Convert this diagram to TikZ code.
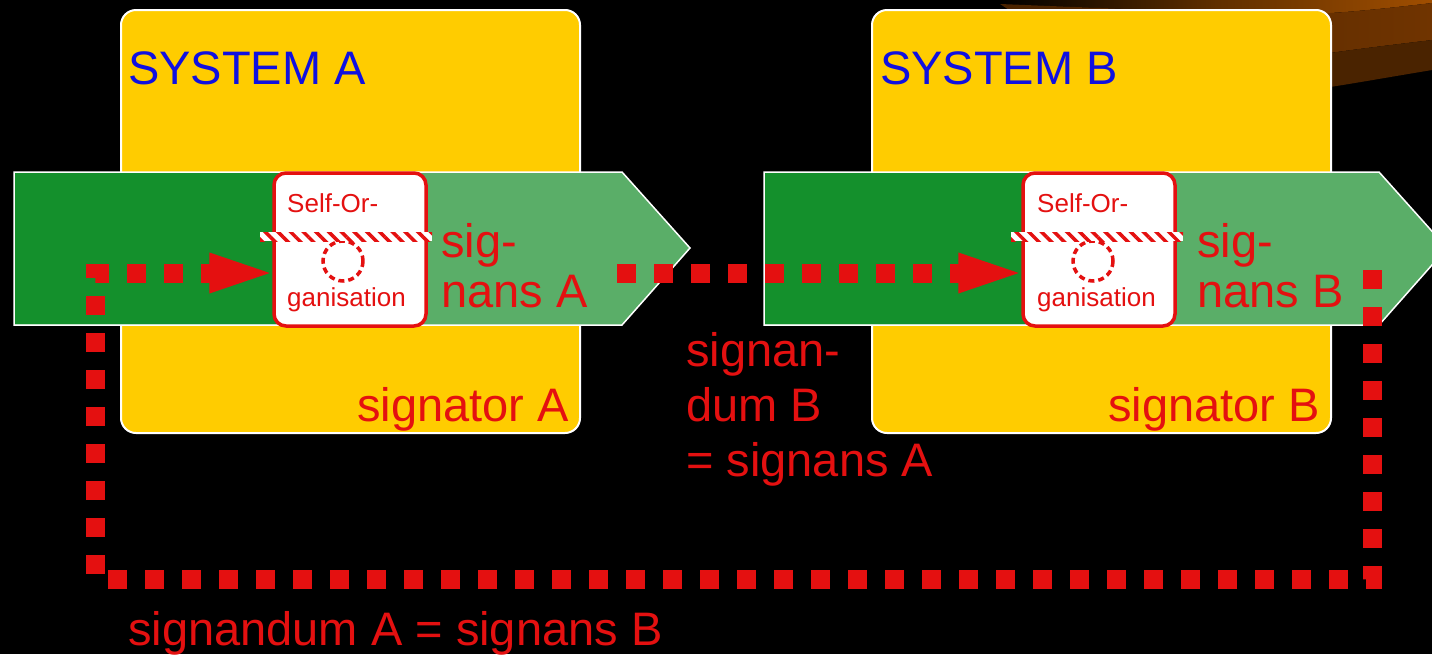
\documentclass[tikz,border=0pt]{standalone}
\usepackage{fontspec}
\setmainfont{Liberation Sans}
\usetikzlibrary{arrows.meta,patterns.meta}

\definecolor{sysyellow}{HTML}{FFCC00}
\definecolor{sysblue}{HTML}{1010E0}
\definecolor{sigred}{HTML}{E41010}
\definecolor{flowdark}{HTML}{14902C}
\definecolor{flowlight}{HTML}{5AAE68}
\definecolor{bandorange}{HTML}{A04E00}
\definecolor{bandmid}{HTML}{703400}
\definecolor{banddark}{HTML}{4A2300}

\tikzset{
  sysbox/.style={fill=sysyellow, draw=white, line width=2pt, rounded corners=15pt},
  systitle/.style={anchor=base west, inner sep=0pt, text=sysblue, font=\fontsize{47}{52}\selectfont},
  biglabel/.style={anchor=base west, inner sep=0pt, text=sigred, font=\fontsize{47}{55}\selectfont},
  flow/.style={fill=flowlight, draw=white, line width=1.5pt},
  sobox/.style={fill=white, draw=sigred, line width=3.5pt, rounded corners=12pt,
    minimum width=152pt, minimum height=153pt, inner sep=0pt},
  solabel/.style={anchor=base west, inner sep=0pt, text=sigred, font=\fontsize{26}{30}\selectfont},
  hatchbar/.style={pattern={Lines[angle=-45,distance=9pt,line width=3.5pt]}, pattern color=sigred},
  hatchring/.style={draw=sigred, line width=3.5pt, dash pattern=on 6pt off 4pt},
  dotline/.style={draw=sigred, line width=19pt, line cap=butt, line join=miter,
    dash pattern=on 19pt off 18pt, -{Triangle[length=71pt,width=34pt]}}
}

\begin{document}
\begin{tikzpicture}[x=1pt,y=-1pt]
\useasboundingbox (0,0) rectangle (1432,654);
\clip (0,0) rectangle (1432,654);
\fill[black] (0,0) rectangle (1432,654);

% curved bands in the upper right corner
\shade[left color=black, right color=bandorange, middle color=bandorange!60!black]
  (1000,0) -- (1432,0) -- (1432,3) .. controls (1390,8) and (1350,12) .. (1330,13)
  .. controls (1250,14) and (1150,10) .. (1000,4) -- cycle;
\shade[left color=banddark, right color=bandmid]
  (1000,4) .. controls (1150,10) and (1250,14) .. (1330,13)
  .. controls (1350,12) and (1390,8) .. (1432,3) -- (1432,40)
  .. controls (1390,45) and (1350,50) .. (1330,53) -- (1100,70) -- cycle;
\fill[banddark]
  (1100,70) -- (1330,53) .. controls (1350,50) and (1390,45) .. (1432,40) -- (1432,70)
  .. controls (1390,77) and (1350,84) .. (1330,87) -- (1100,110) -- cycle;

% the two systems
\draw[sysbox] (121,10) rectangle (580,433);
\draw[sysbox] (872,10) rectangle (1331,433);
\node[systitle] (titleA) at (128,84) {SYSTEM A};
\node[systitle] (titleB) at (880,84) {SYSTEM B};
\node[biglabel] (signatorA) at (357,421) {signator A};
\node[biglabel] (signatorB) at (1108,421) {signator B};

% sign flows
\draw[flow] (14,172) -- (622,172) -- (690,248) -- (622,325) -- (14,325) -- cycle;
\fill[flowdark] (15,173) rectangle (300,324);
\draw[flow] (764,172) -- (1379,172) -- (1447,248) -- (1379,325) -- (764,325) -- cycle;
\fill[flowdark] (765,173) rectangle (1050,324);

% self-organisation boxes
\node[sobox] (soA) at (350,249.5) {};
\node[sobox] (soB) at (1099,249.5) {};
\node[solabel] (soAtop) at (287,212) {Self-Or-};
\node[solabel] (soAbot) at (287,306) {ganisation};
\node[solabel] (soBtop) at (1037,212) {Self-Or-};
\node[solabel] (soBbot) at (1037,306) {ganisation};
\draw[hatchring] (343,261) circle (20);
\draw[hatchring] (1093,261) circle (20);
\fill[white] (260,232) rectangle (432,241);
\fill[hatchbar] (260,232) rectangle (432,241);
\fill[white] (1011,232) rectangle (1183,241);
\fill[hatchbar] (1011,232) rectangle (1183,241);

% signans labels
\node[biglabel] (sigA) at (441,257) {sig-};
\node[biglabel] (nansA) at (441,307) {nans A};
\node[biglabel] (sigB) at (1197,257) {sig-};
\node[biglabel] (nansB) at (1197,307) {nans B};

% connectors: signans becomes the next signandum
\coordinate (outA) at (617,273);
\coordinate (inB) at ([xshift=8pt]soB.west |- outA);
\coordinate (outB) at (1372,270);
\coordinate (cornerBR) at (1372,579);
\coordinate (cornerBL) at (95,579);
\coordinate (cornerTL) at (95,273);
\coordinate (inA) at ([xshift=8pt]soA.west |- cornerTL);
\draw[dotline] (outA) -- (inB);
\draw[dotline] (outB) -- (cornerBR) -- (cornerBL) -- (cornerTL) -- (inA);

\node[biglabel] (sdB1) at (686,366) {signan-};
\node[biglabel] (sdB2) at (686,421) {dum B};
\node[biglabel] (sdB3) at (686,476) {= signans A};
\node[biglabel] (sdA) at (128,645) {signandum A = signans B};
\end{tikzpicture}
\end{document}
